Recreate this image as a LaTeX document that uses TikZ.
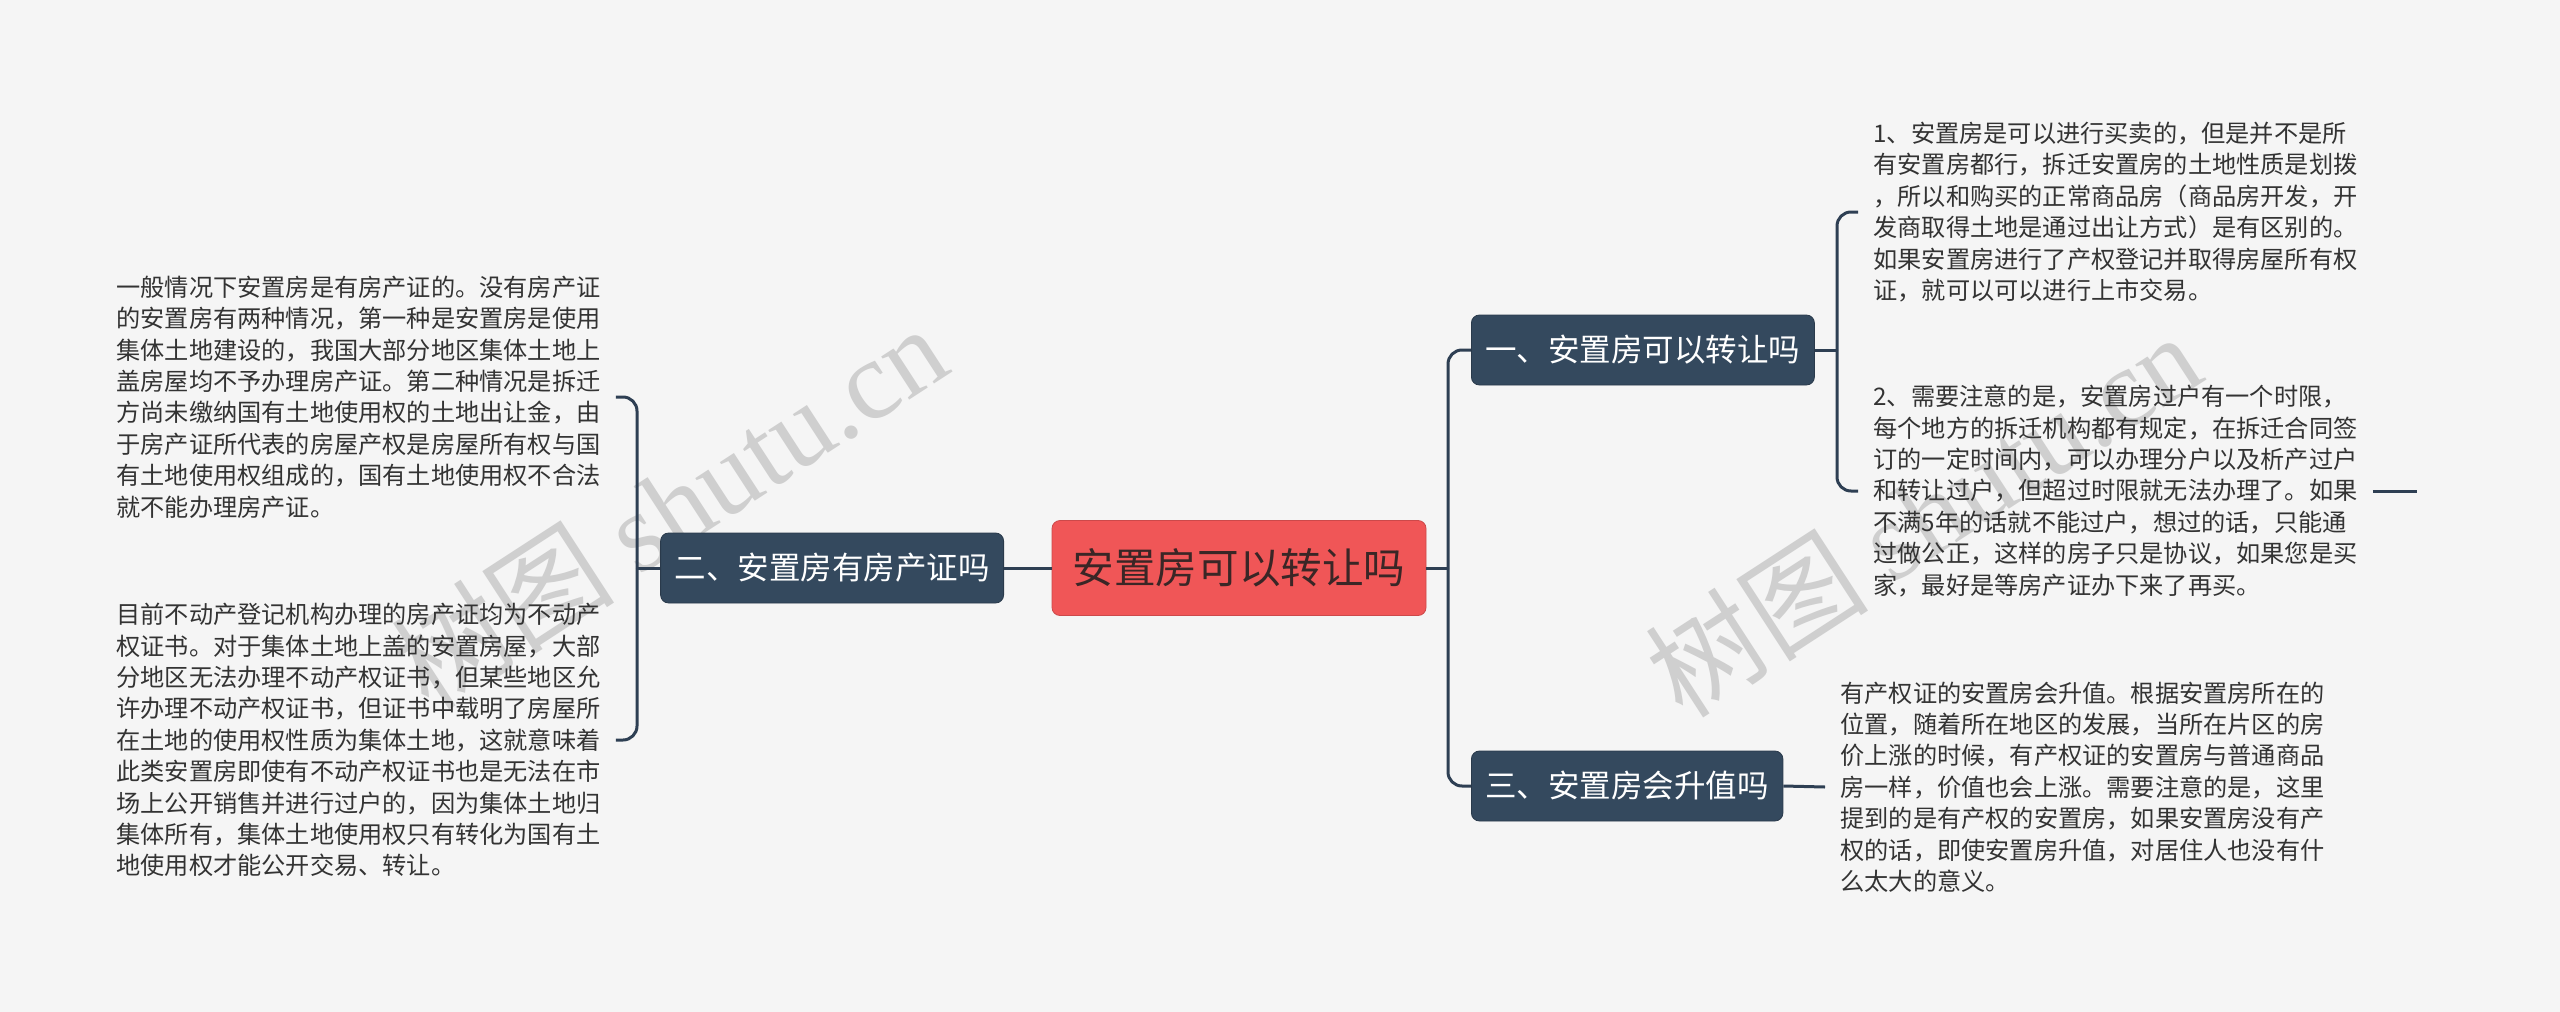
\documentclass[tikz,border=0pt]{standalone}
\usepackage{fontspec}
\setmainfont{Noto Sans CJK SC}
\newfontfamily\wmfont{Liberation Serif}
\usepackage{tikz}
\usetikzlibrary{positioning}
\definecolor{bgcol}{HTML}{F5F5F5}
\definecolor{rootred}{HTML}{F05657}
\definecolor{rootink}{HTML}{3A2626}
\definecolor{slate}{HTML}{34495E}
\definecolor{linecol}{HTML}{2E3F53}
\definecolor{inkcol}{HTML}{333333}
\definecolor{wmgray}{HTML}{CFCFCF}
\newcommand{\wmark}[2]{%
  \node[rotate=33, text=wmgray, font=\fontsize{56pt}{56pt}\selectfont] (#1) at (#2)
    {树图 {\wmfont shutu.cn}};}

\begin{document}
\begin{tikzpicture}[x=0.5pt, y=-0.5pt,
  root/.style={fill=rootred, draw=rootred!85!black, rounded corners=4pt, text=rootink,
    font=\fontsize{20.8pt}{24pt}\selectfont, minimum width=187pt, minimum height=47.5pt, inner sep=0pt},
  topic/.style={fill=slate, draw=slate!80!black, rounded corners=4pt, text=white,
    font=\fontsize{15.75pt}{18pt}\selectfont, minimum height=35pt, inner xsep=7pt, inner ysep=0pt},
  para/.style={align=left, text=inkcol, font=\fontsize{12.1pt}{15.7pt}\selectfont,
    inner xsep=7.5pt, inner ysep=0pt},
  conn/.style={draw=linecol, line width=1.5pt, rounded corners=7pt}]

  \useasboundingbox[fill=bgcol] (0,0) rectangle (2560,1012);

  % ---------- watermarks ----------
  \wmark{wmL}{669,506}
  \wmark{wmR}{1923,514}

  % ---------- centre and topics ----------
  \node[root] (root) at (1239,568) {安置房可以转让吗};
  \node[topic, anchor=east] (q2) at (1004,568) {二、安置房有房产证吗};
  \node[topic, anchor=west] (q1) at (1471,350) {一、安置房可以转让吗};
  \node[topic, anchor=west] (q3) at (1471,786) {三、安置房会升值吗};

  % ---------- answers ----------
  \node[para, anchor=west] (a21) at (101,397) {一般情况下安置房是有房产证的。没有房产证\\
的安置房有两种情况，第一种是安置房是使用\\
集体土地建设的，我国大部分地区集体土地上\\
盖房屋均不予办理房产证。第二种情况是拆迁\\
方尚未缴纳国有土地使用权的土地出让金，由\\
于房产证所代表的房屋产权是房屋所有权与国\\
有土地使用权组成的，国有土地使用权不合法\\
就不能办理房产证。};
  \node[para, anchor=west] (a22) at (101,740) {目前不动产登记机构办理的房产证均为不动产\\
权证书。对于集体土地上盖的安置房屋，大部\\
分地区无法办理不动产权证书，但某些地区允\\
许办理不动产权证书，但证书中载明了房屋所\\
在土地的使用权性质为集体土地，这就意味着\\
此类安置房即使有不动产权证书也是无法在市\\
场上公开销售并进行过户的，因为集体土地归\\
集体所有，集体土地使用权只有转化为国有土\\
地使用权才能公开交易、转让。};
  \node[para, anchor=west] (a11) at (1858,212) {1、安置房是可以进行买卖的，但是并不是所\\
有安置房都行，拆迁安置房的土地性质是划拨\\
，所以和购买的正常商品房（商品房开发，开\\
发商取得土地是通过出让方式）是有区别的。\\
如果安置房进行了产权登记并取得房屋所有权\\
证，就可以可以进行上市交易。};
  \node[para, anchor=west] (a12) at (1858,491) {2、需要注意的是，安置房过户有一个时限，\\
每个地方的拆迁机构都有规定，在拆迁合同签\\
订的一定时间内，可以办理分户以及析产过户\\
和转让过户，但超过时限就无法办理了。如果\\
不满5年的话就不能过户，想过的话，只能通\\
过做公正，这样的房子只是协议，如果您是买\\
家，最好是等房产证办下来了再买。};
  \node[para, anchor=west] (a31) at (1825,787) {有产权证的安置房会升值。根据安置房所在的\\
位置，随着所在地区的发展，当所在片区的房\\
价上涨的时候，有产权证的安置房与普通商品\\
房一样，价值也会上涨。需要注意的是，这里\\
提到的是有产权的安置房，如果安置房没有产\\
权的话，即使安置房升值，对居住人也没有什\\
么太大的意义。};

  % ---------- junctions ----------
  \coordinate (lj) at (637,568);
  \coordinate (rj) at (1448,568);
  \coordinate (qj) at (1837,350);
  \coordinate (stub) at (2417,491);

  % ===== left side =====
  \draw[conn] (root.west) -- (q2.east);
  \draw[conn] (q2.west) -- (lj);
  \draw[conn] (lj) |- (a21.east);
  \draw[conn] (lj) |- (a22.east);

  % ===== right side =====
  \draw[conn] (root.east) -- (rj);
  \draw[conn] (rj) |- (q1.west);
  \draw[conn] (rj) |- (q3.west);
  \draw[conn] (q1.east) -- (qj);
  \draw[conn] (qj) |- (a11.west);
  \draw[conn] (qj) |- (a12.west);
  \draw[conn] (a12.east) -- (stub);
  \draw[conn] (q3.east) -- (a31.west);

\end{tikzpicture}
\end{document}
